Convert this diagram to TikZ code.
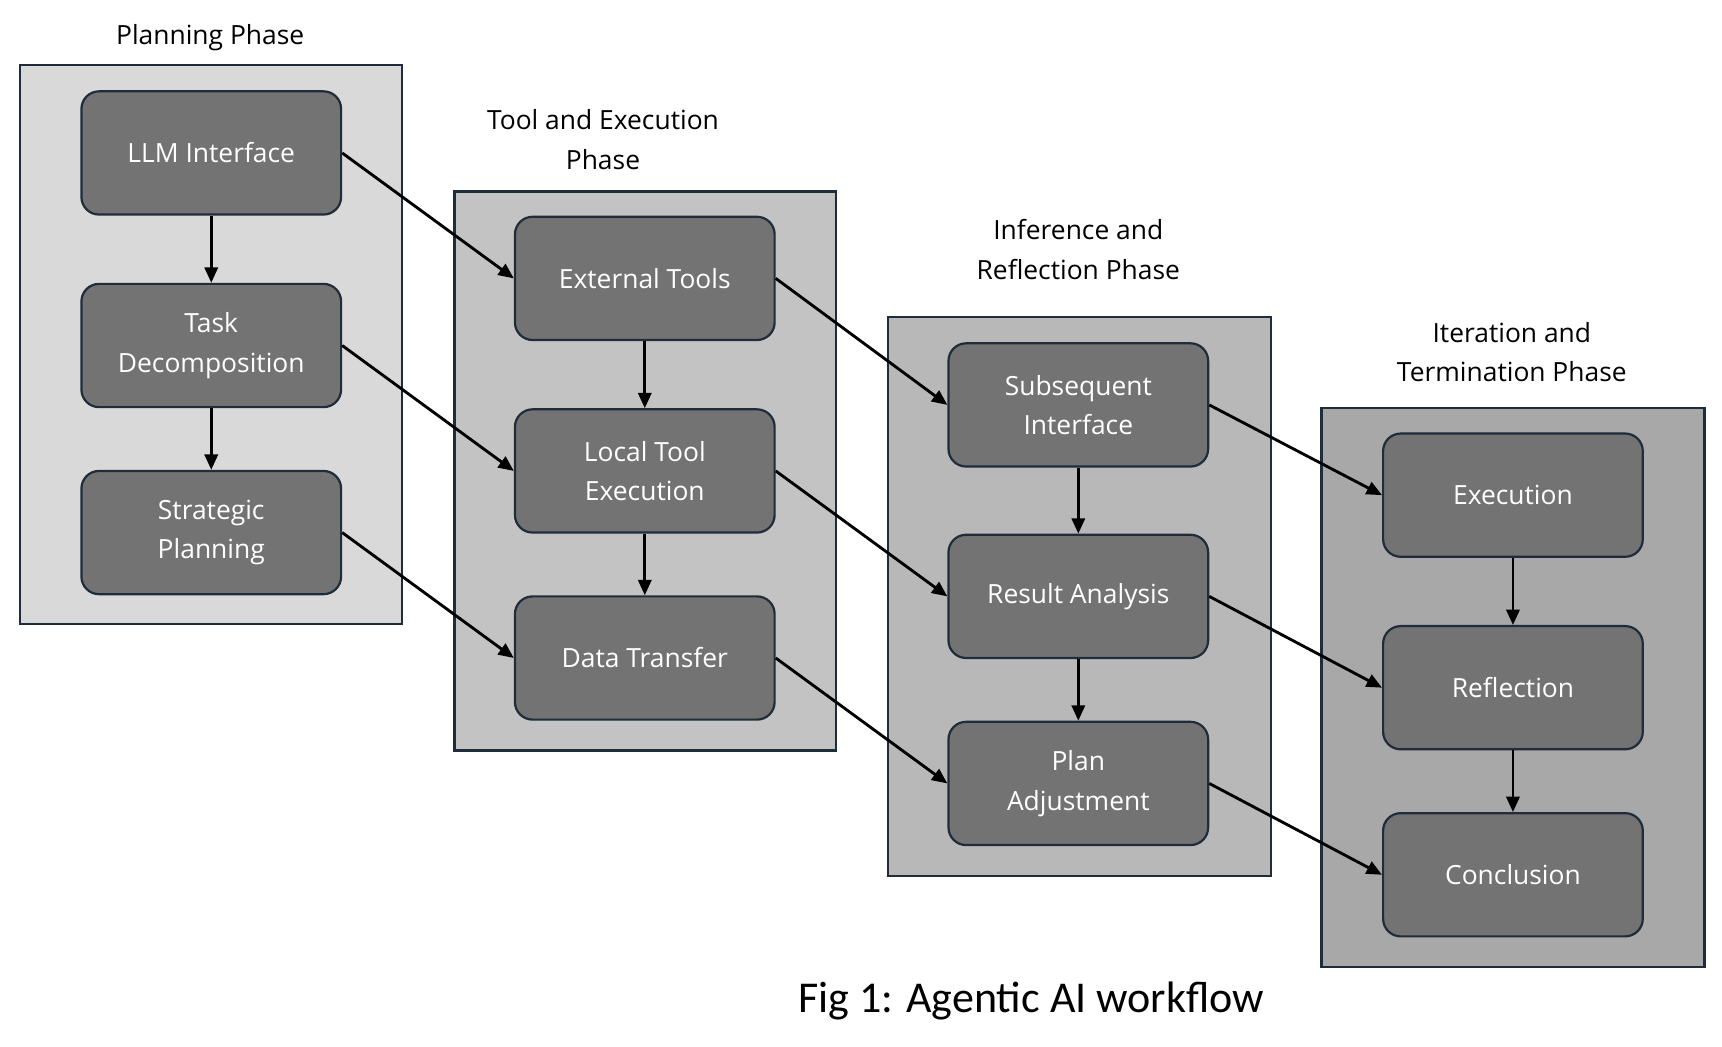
\documentclass[tikz,border=0pt]{standalone}
\usepackage{fontspec}
\setmainfont{Open Sans}
\newfontfamily\capfont{Carlito}
\usetikzlibrary{arrows.meta}
\definecolor{bx}{HTML}{737373}
\definecolor{bd}{HTML}{1F2D3A}
\definecolor{pa}{HTML}{D9D9D9}
\definecolor{pb}{HTML}{C3C3C3}
\definecolor{pc}{HTML}{B8B8B8}
\definecolor{pd}{HTML}{A8A8A8}
\begin{document}
\begin{tikzpicture}[x=1pt,y=-1pt,
 panel/.style={draw=bd,line width=2pt},
 box/.style={draw=bd,line width=2pt,fill=bx,rounded corners=16pt,minimum width=236pt,minimum height=112pt,text=white,align=center,font=\fontsize{24}{36}\selectfont,inner sep=0},
 ttl/.style={align=center,font=\fontsize{24}{36}\selectfont},
 ar/.style={-{Triangle[length=14pt,width=12pt]},line width=2.6pt}]
\useasboundingbox (0,0) rectangle (1565,951);
\fill[white] (0,0) rectangle (1565,951);
\draw[panel,fill=pa] (18,59) rectangle (365,567);
\draw[panel,fill=pb] (413,174) rectangle (760,682);
\draw[panel,fill=pc] (807,288) rectangle (1155,796);
\draw[panel,fill=pd] (1201,371) rectangle (1549,879);
\node[ttl] (t1) at (191,34) {Planning Phase};
\node[ttl] (t2) at (548,127) {Tool and Execution\\Phase};
\node[ttl] (t3) at (980,227) {Inference and\\Reflection Phase};
\node[ttl] (t4) at (1374,320) {Iteration and\\Termination Phase};
\node[box] (a1) at (192,139) {LLM Interface};
\node[box] (a2) at (192,314) {Task\\Decomposition};
\node[box] (a3) at (192,484) {Strategic\\Planning};
\node[box] (b1) at (586,253) {External Tools};
\node[box] (b2) at (586,428) {Local Tool\\Execution};
\node[box] (b3) at (586,598) {Data Transfer};
\node[box] (c1) at (980,368) {Subsequent\\Interface};
\node[box] (c2) at (980,542) {Result Analysis};
\node[box] (c3) at (980,712) {Plan\\Adjustment};
\node[box] (d1) at (1375,450) {Execution};
\node[box] (d2) at (1375,625) {Reflection};
\node[box] (d3) at (1375,795) {Conclusion};
\foreach \u/\v in {a1/a2,a2/a3,b1/b2,b2/b3,c1/c2,c2/c3,d1/d2,d2/d3}
  \draw[ar] (\u.south) -- (\v.north);
\foreach \u/\v in {a1/b1,a2/b2,a3/b3,b1/c1,b2/c2,b3/c3,c1/d1,c2/d2,c3/d3}
  \draw[ar] (\u.east) -- (\v.west);
\node[font=\capfont\fontsize{40}{48}\selectfont] (cap) at (937,910) {Fig 1: Agentic AI workflow};
\end{tikzpicture}
\end{document}
